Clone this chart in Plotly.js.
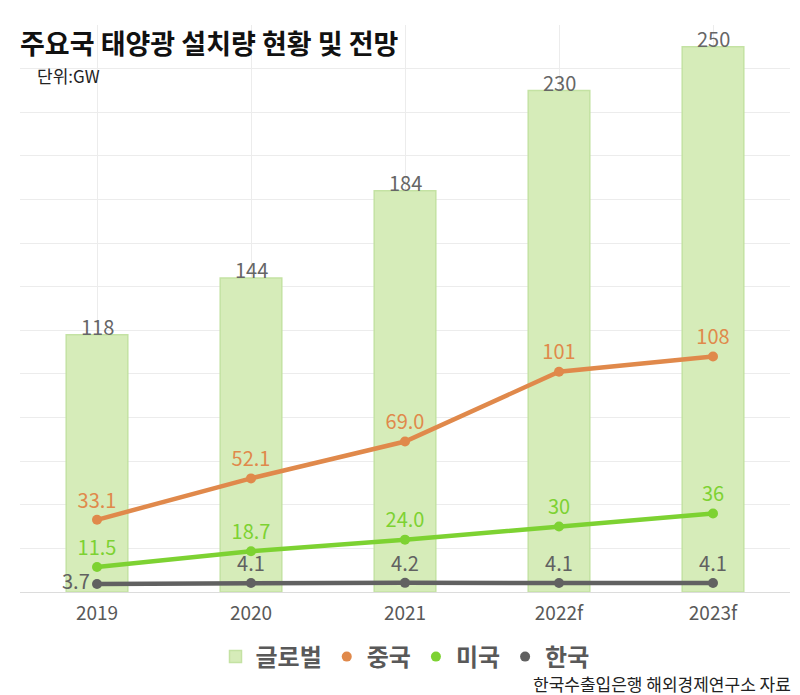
<!DOCTYPE html>
<html>
<head>
<meta charset="utf-8">
<script src="https://cdn.plot.ly/plotly-3.0.1.min.js"></script>
<style>html,body{margin:0;padding:0;background:#fff;}#chart{width:800px;height:695px;}</style>
</head>
<body>
<div id="chart"></div>
<script>
const categories = ['2019', '2020', '2021', '2022f', '2023f'];
const globalValues = [118, 144, 184, 230, 250];
const chinaValues = [33.1, 52.1, 69.0, 101, 108];
const usValues = [11.5, 18.7, 24.0, 30, 36];
const koreaValues = [3.7, 4.1, 4.2, 4.1, 4.1];
const chinaLabels = ['33.1', '52.1', '69.0', '101', '108'];
const usLabels = ['11.5', '18.7', '24.0', '30', '36'];
const koreaLabels = ['3.7', '4.1', '4.2', '4.1', '4.1'];
const seriesNames = ['글로벌', '중국', '미국', '한국'];

const FONT = '"Noto Sans CJK KR", "Noto Sans", sans-serif';
const cGlobal = '#d6ecb9', cGlobalLine = '#c4e2a3';
const cChina = '#e0894b', cUS = '#7dd232', cKorea = '#616161';

// plot area in pixels: x 20..790, y 25..592
const PL = 20, PR = 790, PT = 25, PB = 592;
const px2x = p => (p - PL) / (PR - PL);
const py2y = p => (PB - p) / (PB - PT);

function lineTrace(vals, labels, name, color, positions) {
  return {
    type: 'scatter', mode: 'lines+markers+text', x: categories, y: vals, name: name,
    text: labels, textposition: positions,
    textfont: {family: FONT, size: 20, color: color},
    line: {color: color, width: 4.5}, marker: {color: color, size: 10},
    showlegend: false, cliponaxis: false, hoverinfo: 'skip'
  };
}
function legendDot(name, color) {
  return {type: 'scatter', mode: 'markers', x: [null], y: [null], name: name,
    marker: {color: color, size: 10}, showlegend: true, hoverinfo: 'skip'};
}

const traces = [
  {type: 'bar', x: categories, y: globalValues, name: seriesNames[0], width: 0.4,
   marker: {color: cGlobal, line: {color: cGlobalLine, width: 1.5}}, hoverinfo: 'skip'},
  lineTrace(chinaValues, chinaLabels, seriesNames[1], cChina, 'top center'),
  lineTrace(usValues, usLabels, seriesNames[2], cUS, 'top center'),
  lineTrace(koreaValues, koreaLabels, seriesNames[3], cKorea,
    ['middle left', 'top center', 'top center', 'top center', 'top center']),
  legendDot(seriesNames[1], cChina),
  legendDot(seriesNames[2], cUS),
  legendDot(seriesNames[3], cKorea)
];

const annotations = categories.map((c, i) => ({
  x: i, y: globalValues[i], xref: 'x', yref: 'y', text: String(globalValues[i]),
  showarrow: false, yanchor: 'middle', yshift: 8,
  font: {family: FONT, size: 20, color: '#666666'}
}));
annotations.push({
  xref: 'paper', yref: 'paper', x: px2x(35), y: py2y(75),
  xanchor: 'left', yanchor: 'middle', text: '단위:GW', showarrow: false,
  font: {family: FONT, size: 17, color: '#222222'}
});
annotations.push({
  xref: 'paper', yref: 'paper', x: px2x(793), y: py2y(683),
  xanchor: 'right', yanchor: 'middle', text: '한국수출입은행 해외경제연구소 자료', showarrow: false,
  font: {family: FONT, size: 17, color: '#222222'}
});

const layout = {
  width: 800, height: 695,
  margin: {l: PL, r: 800 - PR, t: PT, b: 695 - PB},
  paper_bgcolor: '#ffffff', plot_bgcolor: '#ffffff',
  title: {text: '<b>주요국 태양광 설치량 현황 및 전망</b>', xref: 'container', yref: 'container',
    x: 20 / 800, y: 1 - 45 / 695, xanchor: 'left', yanchor: 'middle',
    font: {family: FONT, size: 27, color: '#111111'}},
  xaxis: {type: 'category', range: [-0.5, 4.5], showgrid: true, gridcolor: '#ececec',
    showline: false, zeroline: false, ticks: '', ticklabelstandoff: 8,
    tickfont: {family: FONT, size: 19, color: '#595959'}, fixedrange: true},
  yaxis: {range: [0, 260], dtick: 20, showgrid: true, gridcolor: '#ececec',
    zeroline: true, zerolinecolor: '#dcdcdc', zerolinewidth: 1,
    showticklabels: false, fixedrange: true},
  showlegend: true,
  legend: {orientation: 'h', x: 0.5, xanchor: 'center', y: py2y(657), yanchor: 'middle',
    font: {family: FONT, size: 24, color: '#595959', weight: 'bold'},
    itemwidth: 30, tracegroupgap: 0, bgcolor: 'rgba(0,0,0,0)'},
  bargap: 0.6,
  annotations: annotations
};

Plotly.newPlot('chart', traces, layout, {displayModeBar: false, staticPlot: true});
</script>
</body>
</html>
